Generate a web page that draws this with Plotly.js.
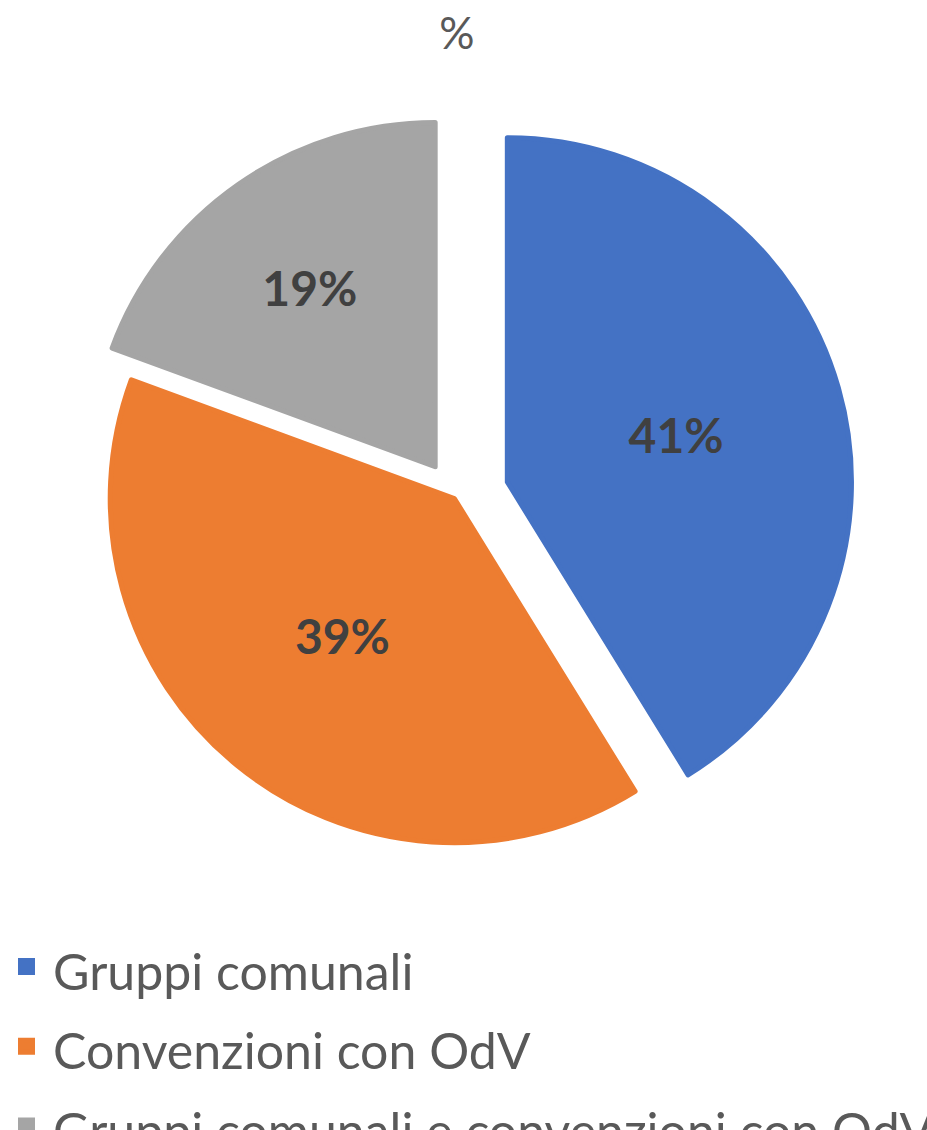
<!DOCTYPE html>
<html>
<head>
<meta charset="utf-8">
<script src="https://cdn.plot.ly/plotly-3.0.1.min.js"></script>
<style>html,body{margin:0;padding:0;background:#fff;}#chart{width:927px;height:1130px;}</style>
</head>
<body>
<div id="chart"></div>
<script>
const labels = ["Gruppi comunali", "Convenzioni con OdV", "Gruppi comunali e convenzioni con OdV"];
const values = [41.2, 39.4, 19.4];
const colors = ["#4472C4", "#ED7D31", "#A5A5A5"];
const pulls = [0.155, 0.0075, 0.1057];
const chartTitle = "%";

const legendLabels = labels.map(l => '<span style="font-size:50px">' + l + '</span>');

const trace = {
  type: "pie",
  labels: legendLabels,
  values: values,
  sort: false,
  direction: "clockwise",
  rotation: 0,
  pull: pulls,
  marker: {colors: colors, line: {width: 5, color: colors}},
  texttemplate: "%{percent:.0%}",
  textposition: "inside",
  insidetextorientation: "horizontal",
  textfont: {family: "Lato, 'Open Sans', sans-serif", size: 48, color: "#404040", weight: "bold"},
  hoverinfo: "label+percent"
};

const layout = {
  width: 927, height: 1130,
  paper_bgcolor: "#fff",
  margin: {l: 0, r: 15, t: 98.5, b: 235.5, autoexpand: false},
  title: {text: chartTitle, x: 0.493, xanchor: "center", y: 0.97, yanchor: "middle", yref: "container",
          font: {family: "Lato, 'Open Sans', sans-serif", size: 44, color: "#595959"}},
  showlegend: true,
  legend: {orientation: "v", x: 0, xanchor: "left", y: -0.0349, yanchor: "top",
           font: {family: "Lato, 'Open Sans', sans-serif", size: 59, color: "#595959"},
           itemwidth: 43, bgcolor: "rgba(0,0,0,0)"}
};

Plotly.newPlot("chart", [trace], layout, {displayModeBar: false, staticPlot: true});
</script>
</body>
</html>
